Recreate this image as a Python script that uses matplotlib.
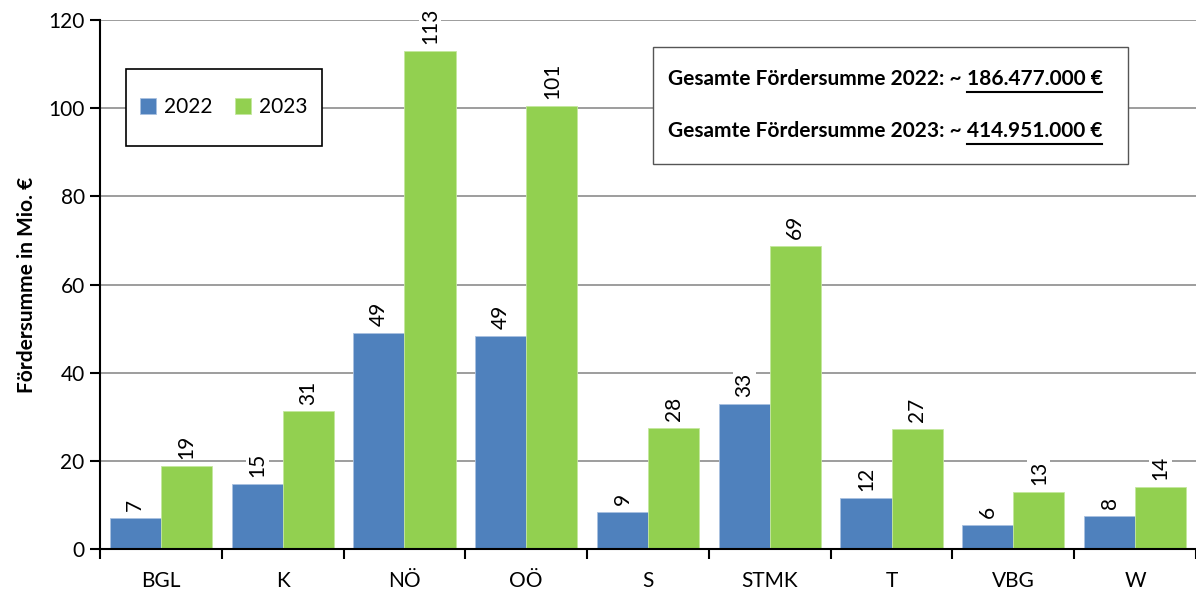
import numpy as np
import matplotlib
matplotlib.use("Agg")
import matplotlib.pyplot as plt
from matplotlib.lines import Line2D

plt.rcParams['font.family'] = ['Lato', 'DejaVu Sans']

regions = ['BGL', 'K', 'NÖ', 'OÖ', 'S', 'STMK', 'T', 'VBG', 'W']
werte_2022 = [7.0, 14.7, 49.0, 48.4, 8.4, 32.9, 11.6, 5.5, 7.4]
werte_2023 = [18.9, 31.2, 113.0, 100.6, 27.4, 68.8, 27.2, 12.9, 14.1]
labels_2022 = ['7', '15', '49', '49', '9', '33', '12', '6', '8']
labels_2023 = ['19', '31', '113', '101', '28', '69', '27', '13', '14']
summen = [('Gesamte Fördersumme 2022: ~ ', '186.477.000 €'),
          ('Gesamte Fördersumme 2023: ~ ', '414.951.000 €')]

blau = '#4F81BD'
gruen = '#92D050'
fs = 15

fig = plt.figure(figsize=(11.96, 5.95), dpi=100)
ax = fig.add_axes([0.0836, 0.0773, 0.9164, 0.889])

x = np.arange(len(regions))
w = 0.42
b1 = ax.bar(x - w / 2, werte_2022, w, color=blau, label='2022', zorder=2,
            edgecolor='#A9C1E0', linewidth=0.6)
b2 = ax.bar(x + w / 2, werte_2023, w, color=gruen, label='2023', zorder=2,
            edgecolor='#C4E79E', linewidth=0.6)

for bars, labs in ((b1, labels_2022), (b2, labels_2023)):
    for rect, lab in zip(bars, labs):
        ax.annotate(lab, (rect.get_x() + rect.get_width() / 2, rect.get_height()),
                    xytext=(0, 5), textcoords='offset points', rotation=90,
                    ha='center', va='bottom', fontsize=fs, zorder=3,
                    bbox=dict(facecolor='white', edgecolor='none', pad=1.0))

ax.set_ylim(0, 120)
ax.set_xlim(-0.5, len(regions) - 0.5)
ax.set_yticks(np.arange(0, 121, 20))
ax.yaxis.grid(True, color='#8C8C8C', linewidth=1.2, zorder=0)
ax.set_axisbelow(True)
ax.set_xticks(x)
ax.set_xticklabels(regions)
ax.set_xticks(np.arange(-0.5, len(regions), 1), minor=True)
ax.tick_params(axis='x', which='major', length=0, pad=16, labelsize=fs)
ax.tick_params(axis='x', which='minor', length=7, width=1.5, direction='out')
ax.tick_params(axis='y', length=7, width=1.5, labelsize=fs, pad=4)
for s in ('top', 'right'):
    ax.spines[s].set_visible(False)
ax.spines['left'].set_linewidth(1.5)
ax.spines['bottom'].set_linewidth(1.5)
ax.set_ylabel('Fördersumme in Mio. €', fontsize=fs, fontweight='bold', labelpad=8)

# Legende mit eigenem Rahmen
ax.add_patch(plt.Rectangle((0.0237, 0.762), 0.1789, 0.145, transform=ax.transAxes,
                           facecolor='white', edgecolor='black', linewidth=1.2, zorder=4))
leg = ax.legend(loc='center', bbox_to_anchor=(0.113, 0.835), ncol=2, fontsize=fs,
                frameon=False, handlelength=0.75, handleheight=0.75,
                columnspacing=1.1, handletextpad=0.4)
leg.set_zorder(5)

# Kasten mit Gesamtsummen
box = plt.Rectangle((0.5046, 0.727), 0.4334, 0.2215, transform=ax.transAxes,
                    facecolor='white', edgecolor='#555555', linewidth=1, zorder=4)
ax.add_patch(box)
fig.canvas.draw()
renderer = fig.canvas.get_renderer()
for i, (txt, num) in enumerate(summen):
    y = 0.888 - i * 0.097
    t1 = ax.text(0.5182, y, txt, transform=ax.transAxes, fontsize=fs,
                 fontweight='bold', va='center', ha='left', zorder=5)
    bb = t1.get_window_extent(renderer).transformed(ax.transAxes.inverted())
    t2 = ax.text(bb.x1, y, num, transform=ax.transAxes, fontsize=fs,
                 fontweight='bold', va='center', ha='left', zorder=5)
    bb2 = t2.get_window_extent(renderer).transformed(ax.transAxes.inverted())
    yl = bb2.y0 - 0.006
    ax.add_line(Line2D([bb2.x0, bb2.x1], [yl, yl], transform=ax.transAxes,
                       color='black', linewidth=1.5, zorder=5))

fig.savefig('out.png', dpi=100)
